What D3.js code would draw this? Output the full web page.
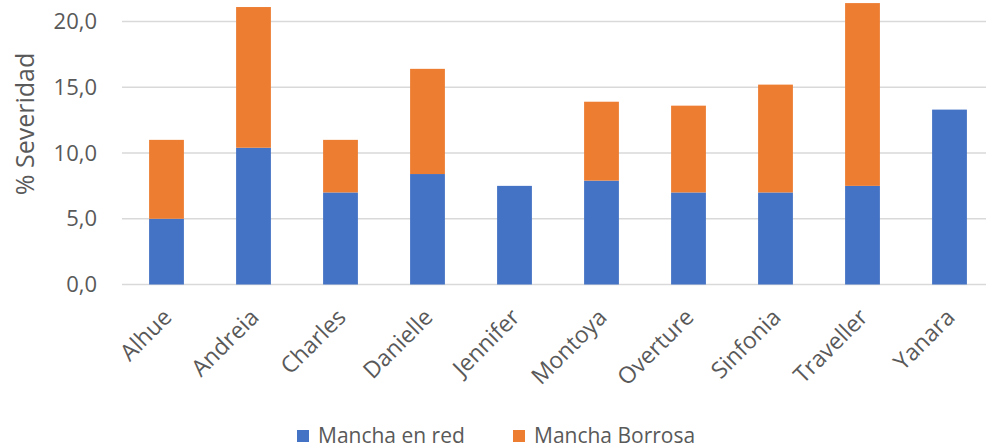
<!DOCTYPE html>
<html>
<head>
<meta charset="utf-8">
<script src="https://cdn.jsdelivr.net/npm/d3@7"></script>
<style>
  html, body { margin: 0; padding: 0; background: #ffffff; }
  svg { display: block; }
  text { font-family: "Open Sans", "Liberation Sans", sans-serif; fill: #595959; }
</style>
</head>
<body>
<svg id="chart" width="986" height="448"></svg>
<script>
const categories = ["Alhue", "Andreia", "Charles", "Danielle", "Jennifer", "Montoya", "Overture", "Sinfonia", "Traveller", "Yanara"];
const manchaEnRed = [5.0, 10.4, 7.0, 8.4, 7.5, 7.9, 7.0, 7.0, 7.5, 13.3];
const manchaBorrosa = [6.0, 10.7, 4.0, 8.0, 0.0, 6.0, 6.6, 8.2, 13.9, 0.0];
const seriesNames = ["Mancha en red", "Mancha Borrosa"];
const seriesColors = ["#4472C4", "#ED7D31"];
const yTicks = [0, 5, 10, 15, 20];
const yTitle = "% Severidad";

const svg = d3.select("#chart");
const W = 986, H = 448;

const x = d3.scaleBand().domain(categories).range([123, 993]).paddingInner(0.6).paddingOuter(0.3);
const y = d3.scaleLinear().domain([0, 20]).range([284.5, 21.5]);

const locale = d3.formatLocale({decimal: ",", thousands: ".", grouping: [3], currency: ["", "€"]});
const fmt = locale.format(".1f");

// gridlines
svg.append("g").selectAll("line").data(yTicks).join("line")
  .attr("x1", 122).attr("x2", W)
  .attr("y1", d => y(d)).attr("y2", d => y(d))
  .attr("stroke", "#d9d9d9").attr("stroke-width", 1.5);

// y tick labels
svg.append("g").selectAll("text").data(yTicks).join("text")
  .attr("x", 97).attr("y", d => y(d)).attr("dy", "0.35em")
  .attr("text-anchor", "end").style("font-size", "22px")
  .text(d => fmt(d));

// y title
svg.append("text")
  .attr("transform", `translate(34,124) rotate(-90)`)
  .attr("text-anchor", "middle").style("font-size", "25px")
  .text(yTitle);

// stacked bars
const rows = categories.map((c, i) => ({cat: c, red: manchaEnRed[i], borrosa: manchaBorrosa[i]}));
const stack = d3.stack().keys(["red", "borrosa"]);
const stacked = stack(rows);

svg.append("g").selectAll("g").data(stacked).join("g")
  .attr("fill", (d, i) => seriesColors[i])
  .selectAll("rect").data(d => d.filter(v => v[1] - v[0] > 0)).join("rect")
  .attr("x", d => x(d.data.cat))
  .attr("width", x.bandwidth())
  .attr("y", d => y(d[1]))
  .attr("height", d => y(d[0]) - y(d[1]));

// x labels
svg.append("g").selectAll("text").data(categories).join("text")
  .attr("transform", d => `translate(${x(d) + x.bandwidth() / 2 + 1},${313}) rotate(-45)`)
  .attr("text-anchor", "end").attr("dy", "0.35em")
  .style("font-size", "23px")
  .text(d => d);

// legend
const legendX = [297, 513];
const lg = svg.append("g").selectAll("g").data(seriesNames).join("g")
  .attr("transform", (d, i) => `translate(${legendX[i]},430)`);
lg.append("rect").attr("width", 12).attr("height", 12).attr("fill", (d, i) => seriesColors[i]);
lg.append("text").attr("x", 21).attr("y", 6).attr("dy", "0.35em").style("font-size", "21px").text(d => d);
</script>
</body>
</html>
